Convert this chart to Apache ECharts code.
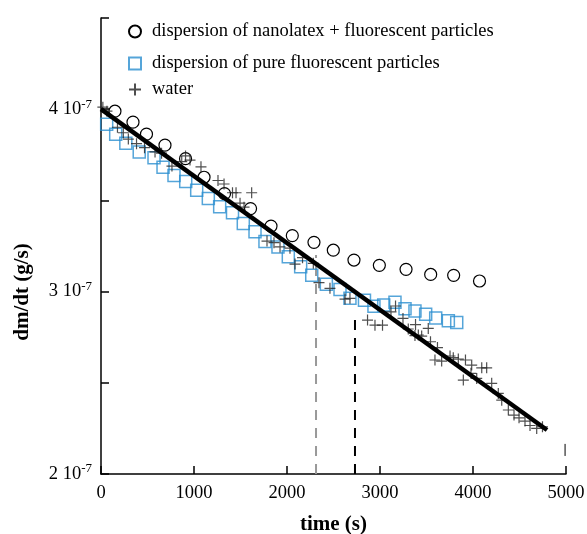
<!DOCTYPE html>
<html>
<head>
<meta charset="utf-8">
<script src="https://cdn.jsdelivr.net/npm/echarts@6/dist/echarts.min.js"></script>
<style>
  html, body { margin: 0; padding: 0; background: #fff; }
  #chart { width: 587px; height: 534px; }
</style>
</head>
<body>
<div id="chart"></div>
<script>
// values of dm/dt are in units of 1e-7 g/s
const circleTime = [150, 344, 489, 688, 909, 1108, 1328, 1608, 1828, 2057, 2290, 2498, 2720, 2993, 3280, 3545, 3792, 4070];
const circleValue = [3.989, 3.929, 3.863, 3.803, 3.729, 3.627, 3.537, 3.455, 3.359, 3.307, 3.270, 3.227, 3.173, 3.144, 3.122, 3.094, 3.089, 3.058];

const squareTime = [61, 158, 267, 411, 570, 667, 785, 911, 1029, 1154, 1276, 1414, 1530, 1656, 1763, 1903, 2014, 2147, 2266, 2423, 2570, 2677, 2833, 2935, 3040, 3161, 3269, 3376, 3491, 3599, 3735, 3825];
const squareValue = [3.917, 3.863, 3.814, 3.766, 3.734, 3.682, 3.637, 3.604, 3.556, 3.511, 3.465, 3.432, 3.374, 3.328, 3.275, 3.244, 3.191, 3.136, 3.090, 3.040, 3.012, 2.963, 2.953, 2.919, 2.926, 2.942, 2.906, 2.893, 2.876, 2.855, 2.840, 2.830];

const waterTime = [20, 64, 177, 240, 294, 382, 468, 581, 651, 763, 868, 909, 957, 1075, 1258, 1323, 1414, 1452, 1620, 1495, 1538, 1785, 1860, 1925, 2032, 2086, 2167, 2283, 2344, 2462, 2624, 2677, 2866, 2946, 3027, 3118, 3167, 3247, 3304, 3382, 3376, 3412, 3448, 3519, 3543, 3618, 3591, 3663, 3753, 3788, 3842, 3919, 3986, 3896, 3978, 4040, 4094, 4147, 4201, 4272, 4309, 4380, 4441, 4495, 4559, 4613, 4685, 4747];
const waterValue = [4.011, 3.989, 3.901, 3.871, 3.836, 3.811, 3.789, 3.766, 3.759, 3.688, 3.713, 3.744, 3.721, 3.684, 3.609, 3.590, 3.542, 3.542, 3.542, 3.485, 3.463, 3.277, 3.268, 3.245, 3.238, 3.151, 3.186, 3.155, 3.049, 3.018, 2.959, 2.963, 2.844, 2.816, 2.816, 2.889, 2.921, 2.853, 2.795, 2.819, 2.759, 2.762, 2.756, 2.798, 2.725, 2.693, 2.625, 2.619, 2.647, 2.638, 2.630, 2.625, 2.597, 2.515, 2.552, 2.524, 2.582, 2.582, 2.497, 2.442, 2.405, 2.351, 2.323, 2.308, 2.290, 2.266, 2.250, 2.259];

const fitTime = [0, 4796];
const fitValue = [4.0, 2.241];

const greyDashTime = [2312, 2312];
const greyDashValue = [2.0, 3.2];
const blackDashTime = [2731, 2731];
const blackDashValue = [2.0, 2.844];

const strayTime = [4990, 4990];
const strayValue = [2.099, 2.165];

const xTicks = [0, 1000, 2000, 3000, 4000, 5000];
const yTickLabels = [2, 3, 4];

const zip = (xs, ys) => xs.map((x, i) => [x, ys[i]]);

const serif = "'Liberation Serif', 'DejaVu Serif', serif";
const plusPath = "path://M0,5L10,5M5,0L5,10";

const chart = echarts.init(document.getElementById("chart"));

const legendBase = {
  orient: "vertical",
  padding: 0,
  itemWidth: 12,
  itemHeight: 12,
  itemGap: 0,
  textStyle: { fontFamily: serif, fontSize: 18.5, color: "#000", padding: [0, 0, 0, 6] },
  selectedMode: false,
};

const option = {
  animation: false,
  backgroundColor: "#fff",
  grid: { left: 101, right: 21, top: 18, bottom: 60, containLabel: false, outerBoundsMode: "none" },
  legend: [
    { ...legendBase, left: 128, top: 22, data: ["dispersion of nanolatex + fluorescent particles"] },
    { ...legendBase, left: 128, top: 54, data: ["dispersion of pure fluorescent particles"] },
    { ...legendBase, left: 128, top: 80, data: ["water"] },
  ],
  xAxis: {
    type: "value",
    min: 0,
    max: 5000,
    interval: 1000,
    name: "time (s)",
    nameLocation: "middle",
    nameGap: 40,
    nameTextStyle: { fontFamily: serif, fontSize: 21, fontWeight: "bold", color: "#000" },
    axisLine: { lineStyle: { color: "#000", width: 1.5 } },
    axisTick: { inside: true, length: 8, lineStyle: { color: "#000", width: 1.5 } },
    axisLabel: {
      fontFamily: serif, fontSize: 18.5, color: "#000", margin: 10,
      formatter: (v) => (xTicks.includes(v) ? String(v) : ""),
    },
    splitLine: { show: false },
  },
  yAxis: {
    type: "value",
    min: 2,
    max: 4.5,
    interval: 0.5,
    axisLine: { show: true, lineStyle: { color: "#000", width: 1.5 } },
    axisTick: { inside: true, length: 8, lineStyle: { color: "#000", width: 1.5 } },
    axisLabel: {
      margin: 9,
      formatter: (v) => (yTickLabels.includes(v) ? "{b|" + v + " 10}{s|-7}" : ""),
      rich: {
        b: { fontFamily: serif, fontSize: 18.5, color: "#000" },
        s: { fontFamily: serif, fontSize: 13, color: "#000", verticalAlign: "top", padding: [0, 0, 10, 0] },
      },
    },
    splitLine: { show: false },
  },
  graphic: [
    {
      type: "text",
      x: 23,
      y: 292,
      rotation: Math.PI / 2,
      style: {
        text: "dm/dt (g/s)",
        font: "bold 21px " + serif,
        fill: "#000",
        textAlign: "center",
        textVerticalAlign: "middle",
      },
    },
  ],
  series: [
    {
      name: "dispersion of nanolatex + fluorescent particles",
      type: "scatter",
      symbol: "circle",
      symbolSize: 12,
      data: zip(circleTime, circleValue),
      itemStyle: { color: "#fff", borderColor: "#000", borderWidth: 1.2, opacity: 1 },
      z: 3,
    },
    {
      name: "dispersion of pure fluorescent particles",
      type: "scatter",
      symbol: "rect",
      symbolSize: 12,
      data: zip(squareTime, squareValue),
      itemStyle: { color: "rgba(255,255,255,0)", borderColor: "#2a8fd0", borderWidth: 1.5 },
      z: 4,
    },
    {
      name: "water",
      type: "scatter",
      symbol: plusPath,
      symbolSize: 11,
      data: zip(waterTime, waterValue),
      itemStyle: { color: "rgba(0,0,0,0)", borderColor: "#222", borderWidth: 1.2 },
      z: 5,
    },
    {
      name: "fit",
      type: "line",
      data: zip(fitTime, fitValue),
      showSymbol: false,
      lineStyle: { color: "#000", width: 4.5 },
      z: 6,
    },
    {
      name: "grey dash",
      type: "line",
      data: zip(greyDashTime, greyDashValue),
      showSymbol: false,
      lineStyle: { color: "#999", width: 2, type: [10, 8] },
      z: 2,
    },
    {
      name: "black dash",
      type: "line",
      data: zip(blackDashTime, blackDashValue),
      showSymbol: false,
      lineStyle: { color: "#000", width: 2, type: [10, 8] },
      z: 2,
    },
    {
      name: "stray",
      type: "line",
      data: zip(strayTime, strayValue),
      showSymbol: false,
      lineStyle: { color: "#000", width: 1 },
      z: 2,
    },
  ],
};

chart.setOption(option);
</script>
</body>
</html>
